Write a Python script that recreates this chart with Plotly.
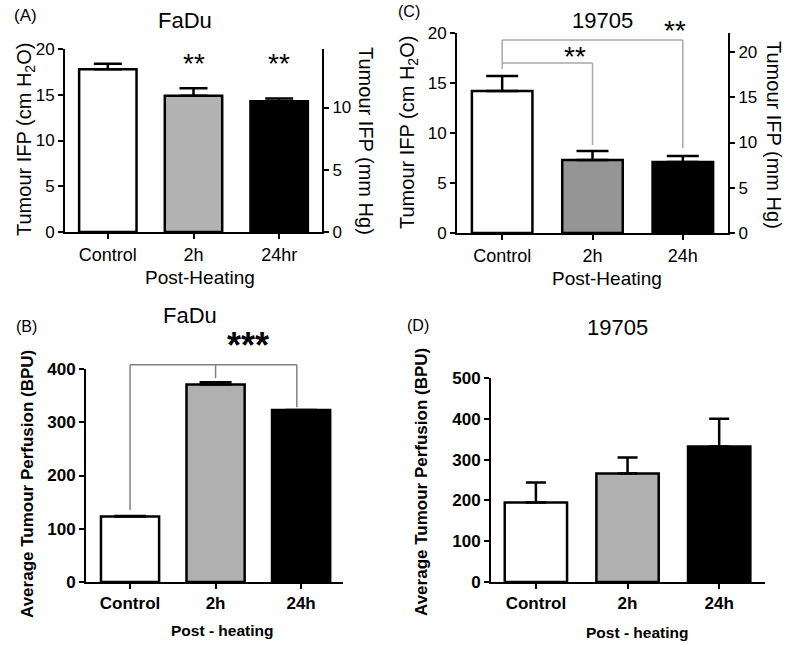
import plotly.graph_objects as go

W, H = 788, 645

# ---------------- data ----------------
cats_A = ["Control", "2h", "24hr"]
ifp_A = [17.8, 14.9, 14.3]          # cm H2O
ifp_A_err = [0.6, 0.8, 0.3]
mmhg_ticks_A = [0, 5, 10]

cats_C = ["Control", "2h", "24h"]
ifp_C = [14.2, 7.3, 7.1]
ifp_C_err = [1.5, 0.9, 0.6]
mmhg_ticks_C = [0, 5, 10, 15, 20]

cats_B = ["Control", "2h", "24h"]
perf_B = [123, 371, 323]
perf_B_err = [1, 4, 0]

cats_D = ["Control", "2h", "24h"]
perf_D = [195, 266, 332]
perf_D_err = [49, 39, 68]

fill_A = ["white", "#b3b3b3", "black"]
fill_C = ["white", "#959595", "black"]
fill_B = ["white", "#b0b0b0", "black"]
fill_D = ["white", "#b0b0b0", "black"]

TOP_FONT = "Liberation Sans, Arial, sans-serif"
BOT_FONT = "Liberation Sans, Arial, sans-serif"


def dx(a, b):
    return [a / W, b / W]


def dy(top, bottom):
    return [1 - bottom / H, 1 - top / H]


def px(x):
    return x / W


def py(y):
    return 1 - y / H


fig = go.Figure()


def add_bars(cats, vals, errs, fills, xa, ya, width, capw):
    fig.add_trace(go.Bar(
        x=cats, y=vals, xaxis=xa, yaxis=ya, width=width,
        marker=dict(color=fills, line=dict(color="black", width=2.5)),
        error_y=dict(type="data", array=errs, arrayminus=[0] * len(errs),
                     symmetric=False, color="black", thickness=2.5, width=capw),
        showlegend=False, hoverinfo="skip"))


add_bars(cats_A, ifp_A, ifp_A_err, fill_A, "x", "y", 0.67, 14)
add_bars(cats_C, ifp_C, ifp_C_err, fill_C, "x3", "y3", 0.67, 16)
add_bars(cats_B, perf_B, perf_B_err, fill_B, "x5", "y5", 0.68, 16)
add_bars(cats_D, perf_D, perf_D_err, fill_D, "x6", "y6", 0.68, 10)
# dummy traces to attach the right-hand mm Hg axes
fig.add_trace(go.Scatter(x=[None], y=[None], xaxis="x", yaxis="y2", showlegend=False, hoverinfo="skip"))
fig.add_trace(go.Scatter(x=[None], y=[None], xaxis="x3", yaxis="y4", showlegend=False, hoverinfo="skip"))

ax = dict(showline=True, linecolor="black", linewidth=2, ticks="outside", ticklen=5,
          tickwidth=2, tickcolor="black", showgrid=False, zeroline=False, fixedrange=True,
          automargin=False)
top_tf = dict(family=TOP_FONT, size=17, color="black")
top_xf = dict(family=TOP_FONT, size=18, color="black")
bot_tf = dict(family=BOT_FONT, size=17, color="black", weight="bold")

fig.update_layout(
    width=W, height=H, margin=dict(l=0, r=0, t=0, b=0, autoexpand=False),
    paper_bgcolor="white", plot_bgcolor="white", bargap=0,
    xaxis=dict(**ax, domain=dx(65, 322), anchor="y", range=[-0.5, 2.5], type="category", tickfont=top_xf),
    yaxis=dict(**ax, domain=dy(49, 232), anchor="x", range=[0, 20], tickvals=[0, 5, 10, 15, 20], tickfont=top_tf),
    yaxis2=dict(**ax, overlaying="y", side="right", anchor="x", range=[0, 14.7], tickvals=mmhg_ticks_A, tickfont=top_tf),
    xaxis3=dict(**ax, domain=dx(457, 728), anchor="y3", range=[-0.5, 2.5], type="category", tickfont=top_xf),
    yaxis3=dict(**ax, domain=dy(33, 233), anchor="x3", range=[0, 20], tickvals=[0, 5, 10, 15, 20], tickfont=top_tf),
    yaxis4=dict(**ax, overlaying="y3", side="right", anchor="x3", range=[0, 22.1], tickvals=mmhg_ticks_C, tickfont=top_tf),
    xaxis5=dict(**ax, domain=dx(86, 343), anchor="y5", range=[-0.515, 2.49], type="category", tickfont=bot_tf),
    yaxis5=dict(**ax, domain=dy(369, 582), anchor="x5", range=[0, 400], tickvals=[0, 100, 200, 300, 400], tickfont=bot_tf),
    xaxis6=dict(**ax, domain=dx(491, 765), anchor="y6", range=[-0.49, 2.5], type="category", tickfont=bot_tf),
    yaxis6=dict(**ax, domain=dy(378, 582), anchor="x6", range=[0, 500], tickvals=[0, 100, 200, 300, 400, 500], tickfont=bot_tf),
)

ann = []


def label(text, x, y, size, family=TOP_FONT, angle=0, bold=False):
    f = dict(family=family, size=size, color="black")
    if bold:
        f["weight"] = "bold"
    ann.append(dict(text=text, x=px(x), y=py(y), xref="paper", yref="paper", showarrow=False,
                    xanchor="center", yanchor="middle", textangle=angle, font=f))


def stars(text, xc, ydom, xref, yref, size, bold=False):
    f = dict(family=TOP_FONT, size=size, color="black")
    if bold:
        f["weight"] = "bold"
    ann.append(dict(text=text, x=xc, y=ydom, xref=xref, yref=yref, showarrow=False,
                    xanchor="center", yanchor="middle", font=f))


# Panel A
label("(A)", 25, 15, 17)
label("FaDu", 185, 20, 22)
label("Tumour IFP (cm H<sub>2</sub>O)", 26, 140, 20, angle=-90)
label("Tumour IFP (mm Hg)", 366, 141, 20, angle=90)
label("Post-Heating", 200, 277, 19)
stars("**", 1, 0.92, "x", "y domain", 28)
stars("**", 2, 0.92, "x", "y domain", 28)

# Panel C
label("(C)", 409, 12, 16)
label("19705", 602, 20, 22)
label("Tumour IFP (cm H<sub>2</sub>O)", 408, 133, 20, angle=-90)
label("Tumour IFP (mm Hg)", 774, 135, 20, angle=90)
label("Post-Heating", 607, 278, 19)
stars("**", 0.81, 0.88, "x3", "y3 domain", 28)
stars("**", 1.91, 1.01, "x3", "y3 domain", 28)

# Panel B
label("(B)", 26, 326, 16)
label("FaDu", 190, 315, 22)
label("Average Tumour Perfusion (BPU)", 27, 484, 17, family=BOT_FONT, angle=-90, bold=True)
label("Post - heating", 222, 630, 15.5, family=BOT_FONT, bold=True)
stars("***", 1.38, 1.11, "x5", "y5 domain", 36, bold=True)

# Panel D
label("(D)", 418, 325, 16)
label("19705", 617, 327, 22)
label("Average Tumour Perfusion (BPU)", 421, 482, 17, family=BOT_FONT, angle=-90, bold=True)
label("Post - heating", 637, 632, 15.5, family=BOT_FONT, bold=True)

fig.update_layout(annotations=ann)

shapes = []


def seg(x0, y0, x1, y1, xref, yref, color, w=1.5):
    shapes.append(dict(type="line", x0=x0, y0=y0, x1=x1, y1=y1, xref=xref, yref=yref,
                       line=dict(color=color, width=w)))


# Panel C brackets (cm H2O units)
gC = "#a8a8a8"
seg(0, 16.4, 0, 19.3, "x3", "y3", gC)
seg(0, 19.3, 2, 19.3, "x3", "y3", gC)
seg(2, 19.3, 2, 8.5, "x3", "y3", gC)
seg(0, 17.0, 1, 17.0, "x3", "y3", gC)
seg(1, 17.0, 1, 8.8, "x3", "y3", gC)

# Panel B bracket (BPU units, relative to the 0-400 axis)
gB = "#808080"
seg(0, 135 / 400, 0, 408 / 400, "x5", "y5 domain", gB)
seg(0, 408 / 400, 1.95, 408 / 400, "x5", "y5 domain", gB)
seg(1.95, 408 / 400, 1.95, 328 / 400, "x5", "y5 domain", gB)
seg(1, 408 / 400, 1, 383 / 400, "x5", "y5 domain", gB)

fig.update_layout(shapes=shapes)

fig.write_html("out.html", config={"displayModeBar": False, "staticPlot": True},
               post_script="document.body.style.margin='0px';document.documentElement.style.overflow='hidden';")
